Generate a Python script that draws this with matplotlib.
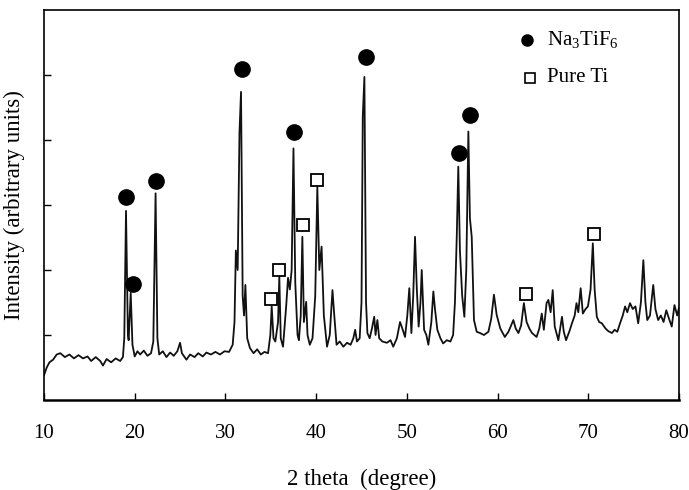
import matplotlib
matplotlib.use("Agg")
import matplotlib.pyplot as plt

plt.rcParams["font.family"] = ["Liberation Serif", "DejaVu Serif"]
plt.rcParams["mathtext.fontset"] = "custom"
plt.rcParams["mathtext.rm"] = "Liberation Serif"

# XRD pattern (2 theta in degrees, intensity in arbitrary units)
two_theta = [
    10.0, 10.3, 10.6, 11.0, 11.4, 11.8, 12.3, 12.8, 13.3, 13.8, 14.3, 14.8, 15.2, 15.7,
    16.2, 16.5, 16.9, 17.4, 17.9, 18.4, 18.7, 18.85, 19.04, 19.25, 19.33, 19.56, 19.75,
    20.0, 20.3, 20.6, 21.0, 21.4, 21.8, 22.05, 22.3, 22.5, 22.7, 23.1, 23.5, 23.9, 24.3,
    24.7, 25.0, 25.2, 25.7, 26.1, 26.6, 27.0, 27.5, 27.9, 28.4, 28.9, 29.4, 29.9, 30.4,
    30.8, 31.0, 31.15, 31.35, 31.55, 31.72, 31.9, 32.05, 32.2, 32.4, 32.7, 33.1, 33.5,
    33.9, 34.3, 34.7, 34.95, 35.1, 35.3, 35.5, 35.8, 35.94, 36.1, 36.35, 36.7, 36.9,
    37.1, 37.3, 37.5, 37.7, 37.95, 38.1, 38.3, 38.48, 38.65, 38.9, 39.05, 39.3, 39.6,
    39.9, 40.13, 40.35, 40.6, 40.85, 41.2, 41.5, 41.8, 42.0, 42.25, 42.6, 43.0, 43.4,
    43.8, 44.1, 44.3, 44.5, 44.8, 45.0, 45.14, 45.32, 45.5, 45.65, 45.9, 46.15, 46.4,
    46.55, 46.75, 46.95, 47.3, 47.8, 48.2, 48.5, 48.9, 49.25, 49.5, 49.8, 50.05, 50.27,
    50.5, 50.7, 50.9, 51.1, 51.3, 51.5, 51.64, 51.9, 52.15, 52.37, 52.7, 52.92, 53.1,
    53.36, 53.7, 54.0, 54.4, 54.8, 55.1, 55.3, 55.5, 55.67, 55.85, 56.1, 56.34, 56.55,
    56.78, 56.95, 57.15, 57.4, 57.7, 58.07, 58.5, 58.99, 59.3, 59.6, 59.9, 60.3, 60.8,
    61.2, 61.74, 62.0, 62.3, 62.6, 62.9, 63.2, 63.5, 63.8, 64.3, 64.6, 64.87, 65.1,
    65.4, 65.6, 65.85, 66.08, 66.3, 66.7, 67.1, 67.3, 67.55, 67.9, 68.2, 68.5, 68.7,
    68.9, 69.16, 69.4, 69.7, 69.96, 70.25, 70.5, 70.7, 70.94, 71.2, 71.5, 71.9, 72.2,
    72.6, 72.9, 73.2, 73.5, 73.8, 74.06, 74.3, 74.6, 74.9, 75.2, 75.5, 75.8, 76.07,
    76.3, 76.5, 76.8, 77.16, 77.4, 77.7, 78.0, 78.3, 78.6, 78.9, 79.2, 79.5, 79.8, 80.0,
]
intensity = [
    0.38, 0.50, 0.58, 0.62, 0.70, 0.72, 0.66, 0.70, 0.64, 0.69, 0.64, 0.67, 0.60, 0.66,
    0.60, 0.53, 0.63, 0.58, 0.64, 0.60, 0.66, 0.95, 2.91, 1.00, 0.92, 1.65, 0.85,
    0.67, 0.75, 0.70, 0.76, 0.68, 0.72, 0.90, 3.18, 0.95, 0.70, 0.75, 0.66, 0.73, 0.68,
    0.75, 0.88, 0.72, 0.62, 0.70, 0.66, 0.72, 0.67, 0.73, 0.70, 0.74, 0.70, 0.75, 0.74,
    0.85, 1.20, 2.30, 2.00, 4.12, 4.74, 1.60, 1.30, 1.77, 0.95, 0.80, 0.72, 0.78,
    0.70, 0.74, 0.72, 1.00, 1.44, 0.95, 0.90, 1.20, 1.90, 0.95, 0.82, 1.45, 1.88,
    1.70, 2.00, 3.87, 1.80, 1.00, 0.92, 1.30, 2.51, 1.20, 1.51, 1.00, 0.85, 0.95,
    1.60, 3.28, 2.00, 2.36, 1.30, 0.82, 1.00, 1.69, 1.30, 0.85, 0.90, 0.82, 0.88,
    0.85, 0.95, 1.08, 0.90, 0.95, 1.50, 4.36, 4.97, 1.50, 1.03, 0.95, 1.10, 1.28,
    1.00, 1.23, 0.95, 0.90, 0.88, 0.92, 0.82, 0.95, 1.20, 1.10, 0.97, 1.30, 1.72,
    1.03, 1.60, 2.51, 1.70, 1.13, 1.50, 2.00, 1.08, 1.00, 0.85, 1.20, 1.67, 1.40,
    1.08, 0.95, 0.87, 0.92, 0.90, 1.00, 1.50, 2.51, 3.59, 2.30, 1.60, 1.28, 2.00,
    4.13, 2.80, 2.51, 1.23, 1.05, 1.03, 1.00, 1.05, 1.25, 1.62, 1.31, 1.10, 0.97,
    1.05, 1.23, 1.10, 1.03, 1.15, 1.49, 1.20, 1.10, 1.03, 0.97, 1.10, 1.33, 1.08,
    1.49, 1.54, 1.35, 1.69, 1.13, 0.92, 1.28, 1.05, 0.92, 1.05, 1.18, 1.30, 1.49,
    1.35, 1.72, 1.33, 1.40, 1.44, 1.70, 2.41, 1.70, 1.28, 1.20, 1.18, 1.10, 1.06,
    1.03, 1.08, 1.05, 1.18, 1.30, 1.44, 1.35, 1.49, 1.40, 1.44, 1.18, 1.50, 2.15,
    1.50, 1.23, 1.30, 1.77, 1.40, 1.23, 1.30, 1.20, 1.38, 1.25, 1.13, 1.46, 1.30, 1.42,
]

# phase markers placed above the indexed peaks
na3tif6_x = [19.04, 19.78, 22.31, 31.86, 37.56, 45.47, 55.79, 56.97]
na3tif6_y = [3.12, 1.78, 3.37, 5.09, 4.13, 5.27, 3.80, 4.38]
ti_x = [35.03, 35.94, 38.52, 40.13, 63.14, 70.67]
ti_y = [1.55, 2.00, 2.69, 3.38, 1.63, 2.55]

x_ticks = [10, 20, 30, 40, 50, 60, 70, 80]
y_ticks = [1, 2, 3, 4, 5]

dpi = 100
fig = plt.figure(figsize=(689 / dpi, 490 / dpi), dpi=dpi)
ax = fig.add_axes([44 / 689, 90 / 490, 635 / 689, 390 / 490])

ax.plot(two_theta, intensity, color="#111111", linewidth=1.3)
ax.plot(na3tif6_x, na3tif6_y, "o", color="black", markersize=11, linestyle="none")
ax.plot(ti_x, ti_y, "s", markerfacecolor="white", markeredgecolor="black",
        markeredgewidth=1.3, markersize=8, linestyle="none")

# legend drawn by hand in axes fraction
ax.plot([0.761], [0.923], "o", color="black", markersize=8, transform=ax.transAxes)
ax.plot([0.765], [0.826], "s", markerfacecolor="white", markeredgecolor="black",
        markeredgewidth=1.2, markersize=6.5, transform=ax.transAxes)
ax.text(0.792, 0.923, r"Na$_\mathrm{3}$TiF$_\mathrm{6}$", transform=ax.transAxes,
        fontsize=15, va="center", ha="left")
ax.text(0.792, 0.826, "Pure Ti", transform=ax.transAxes, fontsize=15, va="center", ha="left")

ax.set_xlim(10, 80)
ax.set_ylim(0, 6)
ax.set_xticks(x_ticks)
ax.set_xticklabels([str(t) for t in x_ticks])
ax.set_yticks(y_ticks)
ax.set_yticklabels([])
ax.tick_params(axis="both", direction="in", length=5, width=1.0, labelsize=15)
ax.tick_params(axis="x", pad=17)
for side in ["left", "right", "top", "bottom"]:
    ax.spines[side].set_linewidth(1.2)
ax.spines["bottom"].set_linewidth(1.8)

ax.set_xlabel("2 theta  (degree)", fontsize=16.5, labelpad=19)
ax.set_ylabel("Intensity (arbitrary units)", fontsize=16.5, labelpad=10)

fig.savefig("out.png", dpi=dpi)
